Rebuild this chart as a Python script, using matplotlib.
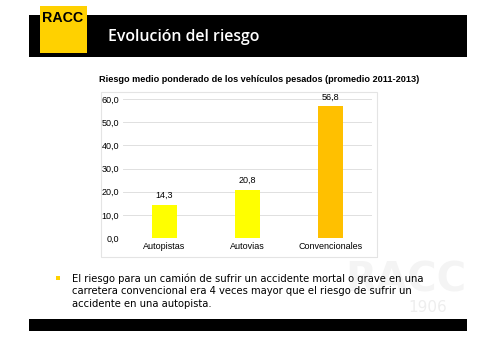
import matplotlib.pyplot as plt
from matplotlib.patches import Rectangle

categorias = ["Autopistas", "Autovias", "Convencionales"]
riesgo = [14.3, 20.8, 56.8]
colores = ["#FFFF00", "#FFFF00", "#FFC000"]
ticks_y = [0, 10, 20, 30, 40, 50, 60]

W, H = 503, 347
fig = plt.figure(figsize=(W / 100, H / 100), dpi=100)
fig.patch.set_facecolor("white")

def px(x, y):
    # pixeles (origen arriba a la izquierda) -> fraccion de figura
    return x / W, 1 - y / H

def caja(x0, y0, x1, y1, **kw):
    fx, fy = px(x0, y1)
    fig.patches.append(Rectangle((fx, fy), (x1 - x0) / W, (y1 - y0) / H,
                                 transform=fig.transFigure, **kw))

# marca de agua
fig.text(*px(406, 280), "RACC", color="#f4f4f4", fontsize=29, fontweight="bold",
         ha="center", va="center", family="DejaVu Sans", zorder=0)
fig.text(*px(428, 308), "1906", color="#eeeeee", fontsize=11,
         ha="center", va="center", family="DejaVu Sans", zorder=0)

# cabecera
caja(29, 15, 467, 57, facecolor="black", edgecolor="none")
caja(40, 6, 87, 53, facecolor="#FFD100", edgecolor="none")
fig.text(*px(63, 18), "RACC", color="black", fontsize=10.3, fontweight="bold",
         ha="center", va="center", family="Liberation Sans")
fig.text(*px(108, 37), "Evolución del riesgo", color="white", fontsize=11.4,
         ha="left", va="center", family="Open Sans", fontweight="semibold")

# titulo del grafico
fig.text(*px(259, 80), "Riesgo medio ponderado de los vehículos pesados (promedio 2011-2013)",
         fontsize=6.6, fontweight="bold", ha="center", va="center", family="Liberation Sans")

# recuadro del grafico
caja(102, 93, 378, 258, facecolor="#d9d9d9", edgecolor="none")
caja(101, 92, 377, 257, facecolor="white", edgecolor="#e4e4e4", linewidth=0.8)

x0, y0 = px(123, 238)
x1, y1 = px(372, 99)
ax = fig.add_axes([x0, y0, x1 - x0, y1 - y0])
ax.set_zorder(5)
ax.set_facecolor("none")
pos = range(len(categorias))
bars = ax.bar(pos, riesgo, width=0.31, color=colores, zorder=3)
for b, v in zip(bars, riesgo):
    ax.text(b.get_x() + b.get_width() / 2, v + 2.2, f"{v:.1f}".replace(".", ","),
            ha="center", va="bottom", fontsize=6.5, family="Liberation Sans")
ax.set_xlim(-0.5, 2.5)
ax.set_ylim(0, 60)
ax.set_yticks(ticks_y)
ax.set_yticklabels([f"{t:.1f}".replace(".", ",") for t in ticks_y],
                   fontsize=6.5, family="Liberation Sans")
ax.set_xticks(list(pos))
ax.set_xticklabels(categorias, fontsize=6.5, family="Liberation Sans")
ax.grid(axis="y", color="#e0e0e0", linewidth=0.7, zorder=0)
for s in ax.spines.values():
    s.set_visible(False)
ax.tick_params(length=0, pad=3)

# texto con viñeta
caja(56, 276, 60, 280, facecolor="#FFD100", edgecolor="none")
lineas = ["El riesgo para un camión de sufrir un accidente mortal o grave en una",
          "carretera convencional era 4 veces mayor que el riesgo de sufrir un",
          "accidente en una autopista."]
for i, l in enumerate(lineas):
    fig.text(*px(72, 279 + i * 12.3), l, fontsize=7.2, ha="left", va="center",
             family="DejaVu Sans")

# barra inferior
caja(29, 319, 467, 331, facecolor="black", edgecolor="none")

fig.savefig("out.png", dpi=100)
